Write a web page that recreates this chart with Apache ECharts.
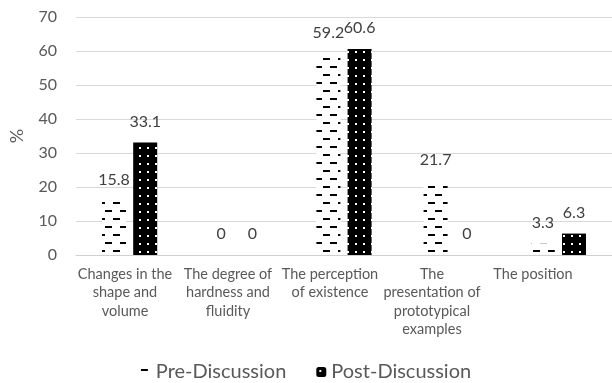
<!DOCTYPE html>
<html>
<head>
<meta charset="utf-8">
<script src="https://cdn.jsdelivr.net/npm/echarts@6/dist/echarts.min.js"></script>
<style>
  html, body { margin: 0; padding: 0; background: #ffffff; }
  #chart { width: 612px; height: 383px; }
</style>
</head>
<body>
<div id="chart"></div>
<script>
// Categories and percentages per discussion phase
const categories = [
  'Changes in the\nshape and\nvolume',
  'The degree of\nhardness and\nfluidity',
  'The perception\nof existence',
  'The\npresentation of\nprototypical\nexamples',
  'The position'
];
const seriesNames = ['Pre-Discussion', 'Post-Discussion'];
const preValues = [15.8, 0, 59.2, 21.7, 3.3];
const postValues = [33.1, 0, 60.6, 0, 6.3];
const yTicks = { min: 0, max: 70, interval: 10 };

const FONT = 'Lato, "Open Sans", sans-serif';

// Hatch fill: white ground with staggered short dashes
function dashPattern() {
  const c = document.createElement('canvas');
  c.width = 15; c.height = 16;
  const g = c.getContext('2d');
  g.fillStyle = '#ffffff';
  g.fillRect(0, 0, 15, 16);
  g.fillStyle = '#000000';
  g.fillRect(0, 2, 7, 2);
  g.fillRect(8, 10, 7, 2);
  return c;
}

// Dotted fill: black ground with a grid of small white dots
function dotPattern() {
  const c = document.createElement('canvas');
  c.width = 8; c.height = 8;
  const g = c.getContext('2d');
  g.fillStyle = '#000000';
  g.fillRect(0, 0, 8, 8);
  g.fillStyle = '#ffffff';
  g.fillRect(3, 3, 2, 2);
  return c;
}

// Category labels sit a little left of the category centres
const labelShift = [-4.6, -8.8, -14, -19.2, -25.4];
const axisData = categories.map((name, i) => ({
  value: name,
  textStyle: { padding: [0, -2 * labelShift[i], 0, 0] }
}));

const chart = echarts.init(document.getElementById('chart'), null, { renderer: 'canvas' });

const valueLabel = {
  show: true,
  position: 'top',
  distance: 13,
  color: '#404040',
  fontSize: 16,
  fontFamily: FONT
};

chart.setOption({
  animation: false,
  backgroundColor: '#ffffff',
  textStyle: { fontFamily: FONT },
  grid: {
    left: 76, right: 0, top: 17, bottom: 128,
    containLabel: false,
    outerBoundsMode: 'none'
  },
  legend: {
    data: seriesNames,
    bottom: -4,
    left: 'center',
    itemWidth: 10,
    itemHeight: 10,
    itemGap: 30,
    textStyle: { fontSize: 20, color: '#595959', fontFamily: FONT }
  },
  xAxis: {
    type: 'category',
    data: axisData,
    axisLine: { show: true, lineStyle: { color: '#d0d0d0', width: 1 } },
    axisTick: { show: false },
    axisLabel: {
      interval: 0,
      margin: 10,
      fontSize: 14.5,
      lineHeight: 18.5,
      color: '#595959',
      fontFamily: FONT
    }
  },
  yAxis: {
    type: 'value',
    min: yTicks.min,
    max: yTicks.max,
    interval: yTicks.interval,
    name: '%',
    nameLocation: 'middle',
    nameRotate: 90,
    nameGap: 50,
    nameTextStyle: { fontSize: 18, color: '#595959', fontFamily: FONT },
    axisLine: { show: false },
    axisTick: { show: false },
    axisLabel: { fontSize: 16, color: '#595959', margin: 19, fontFamily: FONT },
    splitLine: { lineStyle: { color: '#d9d9d9', width: 1 } }
  },
  series: [
    {
      name: seriesNames[0],
      type: 'bar',
      data: preValues,
      barWidth: 24,
      barGap: '30%',
      itemStyle: { color: { image: dashPattern(), repeat: 'repeat' } },
      label: valueLabel
    },
    {
      name: seriesNames[1],
      type: 'bar',
      data: postValues,
      barWidth: 24,
      itemStyle: { color: { image: dotPattern(), repeat: 'repeat' } },
      label: valueLabel
    }
  ]
});
</script>
</body>
</html>
